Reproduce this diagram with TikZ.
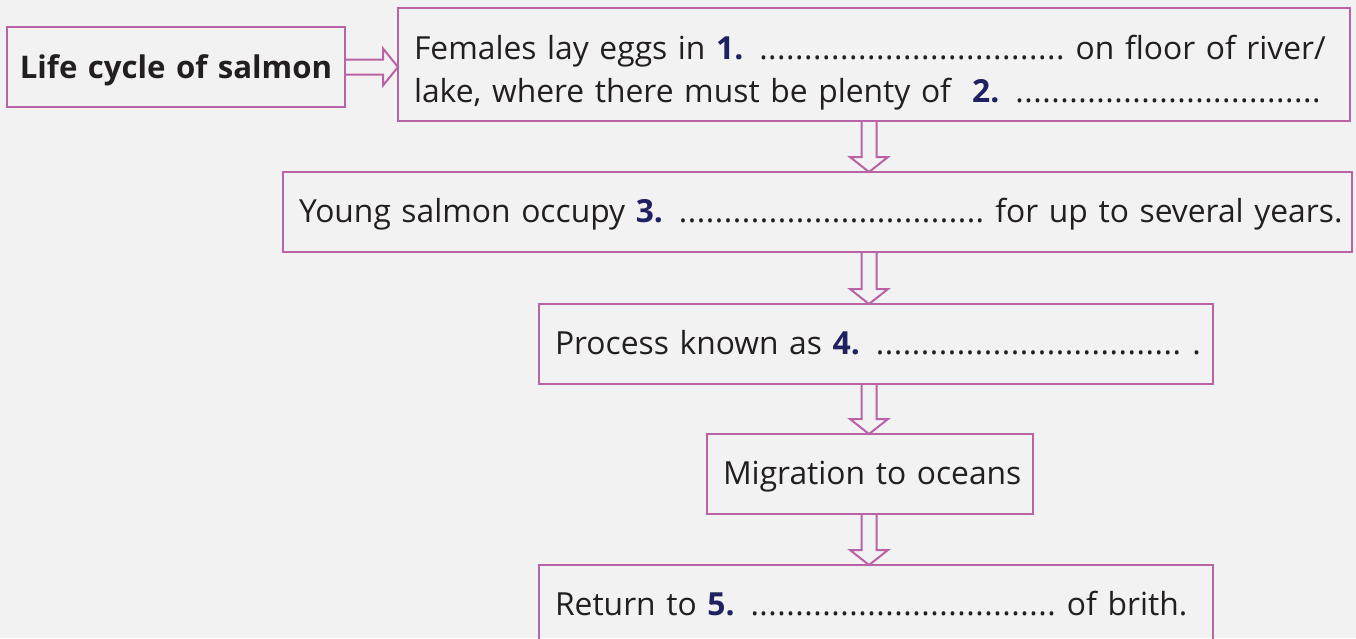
\documentclass[tikz,border=0pt]{standalone}
\usepackage{fontspec}
\setmainfont{Open Sans}
\usetikzlibrary{calc}
\definecolor{boxpink}{RGB}{186,98,166}
\definecolor{numblue}{RGB}{32,33,96}
\definecolor{ink}{RGB}{35,31,32}
\definecolor{paper}{RGB}{242,242,242}
\newcommand\answerno[1]{{\bfseries\color{numblue}#1}}
\newcommand\answerdots{\hbox to 306pt{\xleaders\hbox to 9pt{.\hss}\hfill}}

\begin{document}
\begin{tikzpicture}[x=1pt,y=-1pt,
    box/.style={draw=boxpink, line width=2pt, outer sep=0pt, anchor=north west,
      inner xsep=16pt, inner ysep=0pt, text height=50pt, text depth=30pt,
      text=ink, align=left, font=\fontsize{31.8}{42.5}\selectfont},
    flow/.style={draw=boxpink, line width=2pt, line join=miter}]
    % Page
    \fill[paper] (0,0) rectangle (1356,638);
    \useasboundingbox (0,0) rectangle (1356,638);

    % Boxes
    \node [box, text width=326pt, inner xsep=6pt, align=center, text height=51pt, text depth=29pt,
      font=\fontsize{31.2}{42.5}\selectfont\bfseries] (title) at (7,27) {Life cycle of salmon};
    \node [box, text width=920pt, text height=51.5pt, text depth=61.5pt] (eggs) at (398,8)
      {\mbox{Females lay eggs in \answerno{1.} \answerdots{} on floor of river/}\\
       \mbox{lake, where there must be plenty of \ \answerno{2.} \answerdots}};
    \node [box, text width=1037pt] (young) at (283,172)
      {\mbox{Young salmon occupy \answerno{3.} \answerdots{} for up to several years.}};
    \node [box, text width=642pt] (process) at (539,304)
      {\mbox{Process known as \answerno{4.} \answerdots{} .}};
    \node [box, text width=294pt] (migrate) at (707,434) {\mbox{Migration to oceans}};
    \node [box, text width=642pt] (return) at (539,565)
      {\mbox{Return to \answerno{5.} \answerdots{} of brith.}};

    % Arrows
    \coordinate (spine) at (869,0);
    \draw [flow] let \p1=(title.east), \p2=(title.east -| eggs.west) in
      (\x1,\y1+7.5pt) -- (\x2-15pt,\y1+7.5pt) -- (\x2-15pt,\y1+18.5pt) -- (\x2,\y1)
      -- (\x2-15pt,\y1-18.5pt) -- (\x2-15pt,\y1-7.5pt) -- (\x1,\y1-7.5pt);
    \foreach \a/\b in {eggs/young, young/process, process/migrate, migrate/return}
      \draw [flow] let \p1=(\a.south -| spine), \p2=(\b.north -| spine) in
        (\x1-7.5pt,\y1) -- (\x1-7.5pt,\y2+15pt) -- (\x1-19pt,\y2+15pt) -- (\x1,\y2)
        -- (\x1+19pt,\y2+15pt) -- (\x1+7.5pt,\y2+15pt) -- (\x1+7.5pt,\y1);
\end{tikzpicture}
\end{document}
